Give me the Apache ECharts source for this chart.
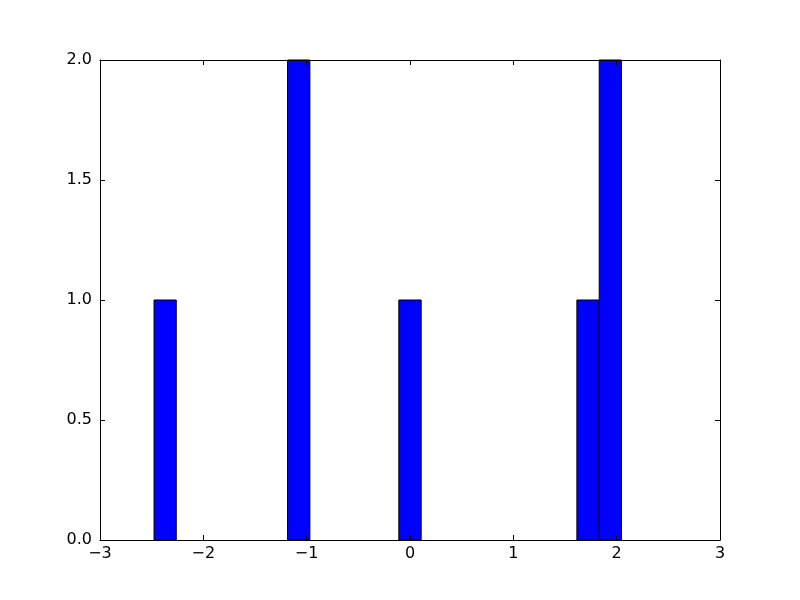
<!DOCTYPE html>
<html>
<head>
<meta charset="utf-8">
<script src="https://cdn.jsdelivr.net/npm/echarts@6/dist/echarts.min.js"></script>
<style>html,body{margin:0;padding:0;background:#fff}#c{width:800px;height:600px}</style>
</head>
<body>
<div id="c"></div>
<script>
// Histogram data
const binEdges = [-2.477, -2.262, -2.046, -1.831, -1.615, -1.400, -1.185, -0.969, -0.754, -0.538, -0.323, -0.108, 0.108, 0.323, 0.538, 0.754, 0.969, 1.185, 1.400, 1.615, 1.831, 2.046];
const counts = [1, 0, 0, 0, 0, 0, 2, 0, 0, 0, 0, 1, 0, 0, 0, 0, 0, 0, 0, 1, 2];
const xTicks = [-3, -2, -1, 0, 1, 2, 3];
const yTicks = [0, 0.5, 1, 1.5, 2];

const data = counts.map((c, i) => [binEdges[i], binEdges[i + 1], c]);

const chart = echarts.init(document.getElementById('c'), null, {renderer: 'canvas'});
const font = 'DejaVu Sans';
const fmtX = v => (v < 0 ? '\u2212' + Math.abs(v) : String(v));
const common = {
  z: 5,
  axisLine: {show: true, onZero: false, lineStyle: {color: '#000', width: 1}},
  axisTick: {show: true, inside: true, length: 5, lineStyle: {color: '#000', width: 1}},
  splitLine: {show: false}
};
chart.setOption({
  animation: false,
  backgroundColor: '#fff',
  grid: {left: 100, right: 80, top: 60, bottom: 60, containLabel: false},
  xAxis: [
    Object.assign({type: 'value', min: xTicks[0], max: xTicks[xTicks.length - 1], interval: 1, position: 'bottom',
      axisLabel: {color: '#000', fontFamily: font, fontSize: 16, margin: 6, formatter: fmtX}}, common),
    Object.assign({type: 'value', min: xTicks[0], max: xTicks[xTicks.length - 1], interval: 1, position: 'top',
      axisLabel: {show: false}}, common)
  ],
  yAxis: [
    Object.assign({type: 'value', min: yTicks[0], max: yTicks[yTicks.length - 1], interval: 0.5, position: 'left',
      axisLabel: {color: '#000', fontFamily: font, fontSize: 16, margin: 8, formatter: v => v.toFixed(1)}}, common),
    Object.assign({type: 'value', min: yTicks[0], max: yTicks[yTicks.length - 1], interval: 0.5, position: 'right',
      axisLabel: {show: false}}, common)
  ],
  series: [{
    type: 'custom',
    z: 1,
    xAxisIndex: 0,
    yAxisIndex: 0,
    data: data,
    renderItem: function (params, api) {
      const x0 = api.value(0), x1 = api.value(1), c = api.value(2);
      if (!c) return null;
      const p0 = api.coord([x0, 0]);
      const p1 = api.coord([x1, c]);
      return {
        type: 'rect',
        shape: {x: p0[0], y: p1[1], width: p1[0] - p0[0], height: p0[1] - p1[1]},
        style: {fill: '#0000ff', stroke: '#000', lineWidth: 1}
      };
    }
  }]
});
</script>
</body>
</html>
